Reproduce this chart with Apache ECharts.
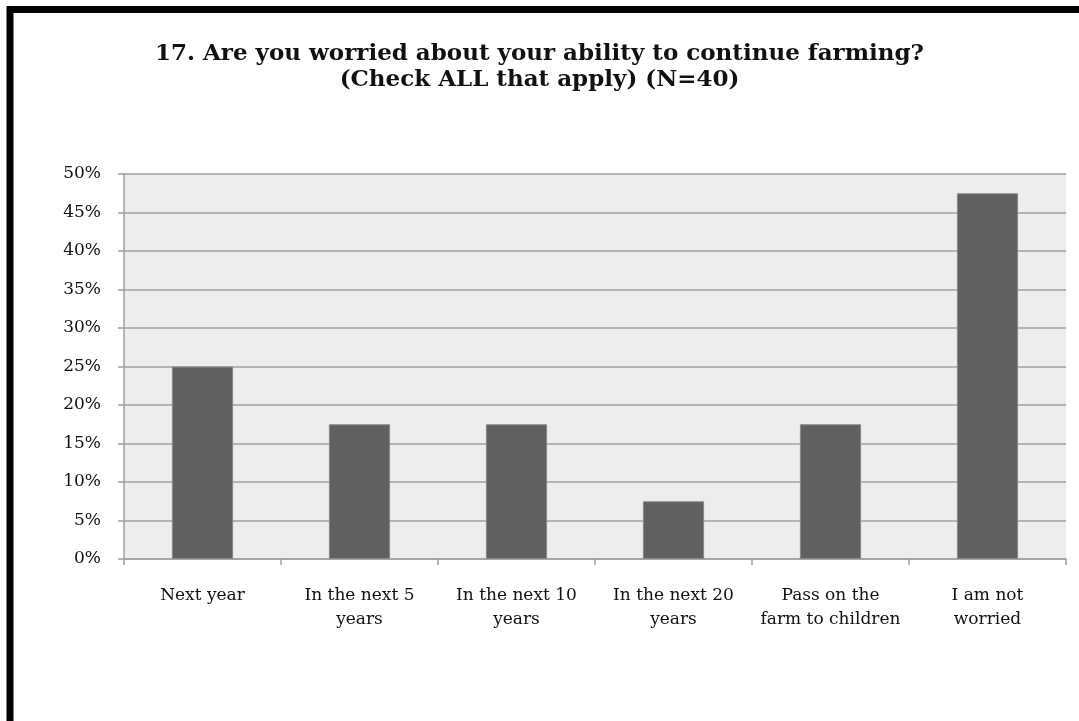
<!DOCTYPE html>
<html>
<head>
<meta charset="utf-8">
<script src="https://cdn.jsdelivr.net/npm/echarts@6/dist/echarts.min.js"></script>
<style>
  html, body { margin: 0; padding: 0; background: #fff; }
  #chart { width: 1079px; height: 721px; }
</style>
</head>
<body>
<div id="chart"></div>
<script>
// Survey question 17: share of respondents (N=40) choosing each answer
const titleText = '17. Are you worried about your ability to continue farming?\n(Check ALL that apply) (N=40)';
const categories = [
  'Next year',
  'In the next 5\nyears',
  'In the next 10\nyears',
  'In the next 20\nyears',
  'Pass on the\nfarm to children',
  'I am not\nworried'
];
const percentValues = [25, 17.5, 17.5, 7.5, 17.5, 47.5];
const yMin = 0, yMax = 50, yStep = 5;

const serif = '"DejaVu Serif", "Liberation Serif", serif';
const gridGray = '#a0a0a0';

const chart = echarts.init(document.getElementById('chart'));
chart.setOption({
  backgroundColor: '#ffffff',
  animation: false,
  title: {
    text: titleText,
    left: 'center',
    top: 36,
    textStyle: {
      fontFamily: serif,
      fontWeight: 'bold',
      fontSize: 23,
      lineHeight: 26,
      color: '#111'
    }
  },
  graphic: [{
    type: 'rect',
    shape: { x: 10, y: 9.5, width: 1200, height: 900 },
    style: { fill: 'none', stroke: '#000', lineWidth: 7 },
    silent: true
  }],
  grid: {
    left: 124, top: 174, right: 13, bottom: 162,
    show: true,
    backgroundColor: '#ededed',
    borderWidth: 0
  },
  xAxis: {
    type: 'category',
    data: categories,
    axisLine: { show: true, lineStyle: { color: gridGray, width: 1.5 } },
    axisTick: { show: true, length: 6, alignWithLabel: false, lineStyle: { color: gridGray, width: 1.5 } },
    axisLabel: {
      interval: 0,
      margin: 25,
      fontFamily: serif,
      fontSize: 17,
      lineHeight: 24,
      color: '#111'
    }
  },
  yAxis: {
    type: 'value',
    min: yMin, max: yMax, interval: yStep,
    axisLine: { show: true, lineStyle: { color: gridGray, width: 1.5 } },
    axisTick: { show: true, length: 6, lineStyle: { color: gridGray, width: 1.5 } },
    splitLine: { show: true, lineStyle: { color: gridGray, width: 1.5 } },
    axisLabel: {
      formatter: '{value}%',
      margin: 23,
      fontFamily: serif,
      fontSize: 17,
      color: '#111'
    }
  },
  series: [{
    type: 'bar',
    data: percentValues,
    barWidth: '39%',
    itemStyle: { color: '#606060', borderColor: '#8a8a8a', borderWidth: 1 }
  }]
});
</script>
</body>
</html>
